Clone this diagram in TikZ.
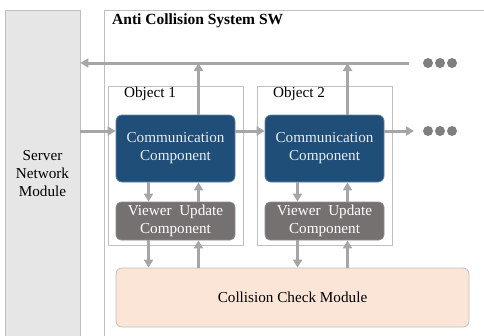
\documentclass[tikz,border=0pt]{standalone}
\usepackage{fontspec}
\setmainfont{Liberation Serif}
\usetikzlibrary{arrows.meta,positioning}

\definecolor{linkgray}{HTML}{A6A6A6}
\definecolor{commblue}{HTML}{1F4E79}
\definecolor{viewgray}{HTML}{767171}
\definecolor{collpeach}{HTML}{FBE5D6}
\definecolor{srvgray}{HTML}{E7E6E6}
\definecolor{edgegray}{HTML}{BFBFBF}
\definecolor{dotgray}{HTML}{7F7F7F}

\begin{document}
\begin{tikzpicture}[
  x=1pt, y=-1pt,
  >={Triangle[length=8pt,width=9pt]},
  font=\fontsize{15.2}{18}\selectfont,
  box/.style={draw, align=center, inner sep=2pt, line width=0.8pt},
  srvbox/.style ={box, fill=srvgray, draw=edgegray, minimum width=75pt, minimum height=328pt},
  swbox/.style  ={box, draw=edgegray, minimum width=390pt, minimum height=335pt},
  objbox/.style ={box, draw=edgegray, minimum width=135pt, minimum height=159pt},
  comm/.style   ={box, rounded corners=6pt, fill=commblue, draw=commblue!70!white,
                  text=white!90!commblue, minimum width=119pt, minimum height=67pt},
  view/.style   ={box, rounded corners=5pt, fill=viewgray, draw=viewgray!80!white,
                  text=white, minimum width=119pt, minimum height=38pt},
  coll/.style   ={box, rounded corners=6pt, fill=collpeach, draw=edgegray,
                  minimum width=353pt, minimum height=59pt},
  dot/.style    ={circle, fill=dotgray, minimum size=10pt, inner sep=0pt},
  arr/.style    ={->, draw=linkgray, line width=3pt}
]
    \useasboundingbox (0,0) rectangle (484,335);

    % Outer frames
    \node[srvbox] (srv) at (42.5,174) {Server\\Network\\Module};
    \node[swbox]  (sw)  at (299,177.5) {};
    \node[font=\bfseries\fontsize{15.5}{18}\selectfont, anchor=west, inner sep=0pt]
      (title) at (112,21) {Anti Collision System SW};

    % Object frames
    \node[objbox] (obj1) at (175.5,165.5) {};
    \node[objbox] (obj2) at (324.5,165.5) {};
    \node[anchor=west] (lbl1) at ([xshift=13pt,yshift=-8pt]obj1.north west) {Object 1};
    \node[anchor=west] (lbl2) at ([xshift=13pt,yshift=-8pt]obj2.north west) {Object 2};

    % Components
    \node[comm] (comm1) at (175.5,148.5) {Communication\\Component};
    \node[comm] (comm2) at (324.5,148.5) {Communication\\Component};
    \node[view] (view1) at (175.5,221)   {Viewer\ \ Update\\Component};
    \node[view] (view2) at (324.5,221)   {Viewer\ \ Update\\Component};
    \node[coll] (chk)   at (292.5,297.5) {Collision\ Check\ Module};

    % More objects
    \foreach \i in {0,1,2} {
      \node[dot] (top\i) at (428+\i*12,63) {};
      \node[dot] (mid\i) at (428+\i*12,131) {};
    }
    \coordinate (busend) at (409,63);
    \coordinate (midend) at (414,131);

    % Bus back to the server
    \draw[arr] (busend) -- (busend -| srv.east);

    % Message chain
    \draw[arr] (srv.east |- 0,131) -- (comm1.west |- 0,131);
    \draw[arr] (comm1.east |- 0,131) -- (comm2.west |- 0,131);
    \draw[arr] (comm2.east |- 0,131) -- (midend);

    % Per object links
    \foreach \o in {1,2} {
      \draw[arr] ([xshift=23pt]comm\o.north) -- ([xshift=23pt]comm\o.north |- busend);
      \draw[arr] ([xshift=-27pt]comm\o.south) -- ([xshift=-27pt]view\o.north);
      \draw[arr] ([xshift=23pt]view\o.north) -- ([xshift=23pt]comm\o.south);
      \draw[arr] ([xshift=-27pt]view\o.south) -- ([xshift=-27pt]view\o.south |- chk.north);
      \draw[arr] ([xshift=23pt]view\o.south |- chk.north) -- ([xshift=23pt]view\o.south);
    }
\end{tikzpicture}
\end{document}
